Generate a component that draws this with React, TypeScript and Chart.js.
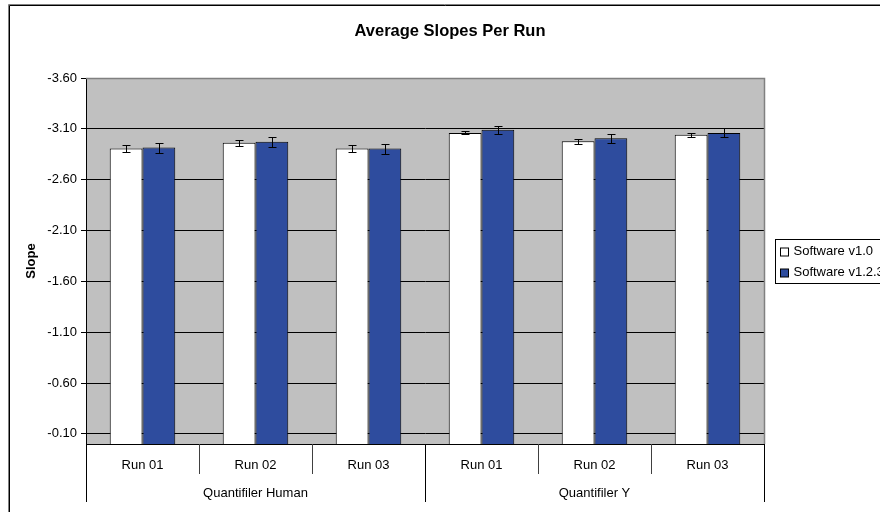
import React, { useEffect, useRef } from "react";
import { Chart, registerables } from "chart.js";

Chart.register(...registerables);

// ---- data ----
const runs = ["Run 01", "Run 02", "Run 03", "Run 01", "Run 02", "Run 03"];
const groups = ["Quantifiler Human", "Quantifiler Y"];
const groupOfRun = [0, 0, 0, 1, 1, 1];
const seriesNames = ["Software v1.0", "Software v1.2.3"];
const slopesV10 = [-2.906, -2.962, -2.906, -3.06, -2.978, -3.041];
const slopesV123 = [-2.916, -2.972, -2.906, -3.09, -3.008, -3.06];
const errV10 = [0.037, 0.033, 0.037, 0.015, 0.025, 0.02];
const errV123 = [0.049, 0.048, 0.049, 0.042, 0.046, 0.044];
const yTicks = [-3.6, -3.1, -2.6, -2.1, -1.6, -1.1, -0.6, -0.1];
const yMin = -3.6;
const yMax = 0;
const chartTitle = "Average Slopes Per Run";
const yTitle = "Slope";

const FONT = "'Liberation Sans', Arial, Helvetica, sans-serif";
const BLUE = "#2E4C9E";
const PLOT_BG = "#C0C0C0";

const excelPlugin = {
  id: "excelDecor",
  beforeDraw(chart: any) {
    const { ctx, chartArea: a } = chart;
    ctx.save();
    ctx.fillStyle = "#ffffff";
    ctx.fillRect(0, 0, chart.width, chart.height);
    ctx.fillStyle = PLOT_BG;
    ctx.fillRect(a.left, a.top, a.right - a.left, a.bottom - a.top);
    ctx.restore();
  },
  afterDatasetsDraw(chart: any) {
    const { ctx } = chart;
    const ys = chart.scales.y;
    ctx.save();
    ctx.strokeStyle = "#000";
    ctx.lineWidth = 1;
    chart.data.datasets.forEach((ds: any, di: number) => {
      const meta = chart.getDatasetMeta(di);
      meta.data.forEach((bar: any, i: number) => {
        const v = ds.data[i];
        const e = ds.errors[i];
        const x = Math.round(bar.x) + 0.5;
        const y1 = Math.round(ys.getPixelForValue(v - e)) + 0.5;
        const y2 = Math.round(ys.getPixelForValue(v + e)) + 0.5;
        ctx.beginPath();
        ctx.moveTo(x, y1);
        ctx.lineTo(x, y2);
        ctx.moveTo(x - 4, y1);
        ctx.lineTo(x + 4, y1);
        ctx.moveTo(x - 4, y2);
        ctx.lineTo(x + 4, y2);
        ctx.stroke();
      });
    });
    ctx.restore();
  },
  afterDraw(chart: any) {
    const { ctx, chartArea: a } = chart;
    const xs = chart.scales.x;
    ctx.save();

    // outer chart frame
    ctx.strokeStyle = "#808080";
    ctx.lineWidth = 1;
    ctx.beginPath();
    ctx.moveTo(8.5, chart.height + 5);
    ctx.lineTo(8.5, 4.5);
    ctx.lineTo(chart.width + 5, 4.5);
    ctx.stroke();
    ctx.strokeStyle = "#000";
    ctx.beginPath();
    ctx.moveTo(9.5, chart.height + 5);
    ctx.lineTo(9.5, 5.5);
    ctx.lineTo(chart.width + 5, 5.5);
    ctx.stroke();

    // plot border (top / right grey)
    ctx.strokeStyle = "#808080";
    ctx.lineWidth = 1.5;
    ctx.beginPath();
    ctx.moveTo(a.left, a.top + 0.5);
    ctx.lineTo(a.right + 0.5, a.top + 0.5);
    ctx.lineTo(a.right + 0.5, a.bottom);
    ctx.stroke();

    // x axis line
    ctx.strokeStyle = "#000";
    ctx.lineWidth = 1;
    ctx.beginPath();
    ctx.moveTo(a.left, a.bottom + 0.5);
    ctx.lineTo(a.right + 1, a.bottom + 0.5);
    ctx.stroke();

    // hierarchical x labels
    const n = runs.length;
    const half = (xs.getPixelForValue(1) - xs.getPixelForValue(0)) / 2;
    const bounds: number[] = [];
    for (let k = 0; k <= n; k++) {
      bounds.push(k < n ? xs.getPixelForValue(k) - half : xs.getPixelForValue(n - 1) + half);
    }
    for (let k = 0; k <= n; k++) {
      const isGroupEdge = k === 0 || k === n || groupOfRun[k] !== groupOfRun[k - 1];
      const x = Math.round(bounds[k]) + 0.5;
      ctx.strokeStyle = isGroupEdge ? "#000" : "#404040";
      ctx.beginPath();
      ctx.moveTo(x, a.bottom);
      ctx.lineTo(x, a.bottom + (isGroupEdge ? 58 : 30));
      ctx.stroke();
    }
    ctx.fillStyle = "#000";
    ctx.font = `13px ${FONT}`;
    ctx.textAlign = "center";
    ctx.textBaseline = "middle";
    runs.forEach((r, i) => {
      ctx.fillText(r, xs.getPixelForValue(i), a.bottom + 21);
    });
    groups.forEach((g, gi) => {
      const idx = groupOfRun.map((v, i) => (v === gi ? i : -1)).filter((i) => i >= 0);
      const x0 = bounds[idx[0]];
      const x1 = bounds[idx[idx.length - 1] + 1];
      ctx.fillText(g, (x0 + x1) / 2, a.bottom + 49);
    });

    // title
    ctx.font = `bold 16.5px ${FONT}`;
    ctx.fillText(chartTitle, 450, 31);

    // legend
    const cy = (a.top + a.bottom) / 2;
    const lx = a.right + 11.5;
    const ly = Math.round(cy - 22) + 0.5;
    ctx.strokeStyle = "#000";
    ctx.lineWidth = 1;
    ctx.strokeRect(lx, ly, 200, 44);
    ctx.font = `13px ${FONT}`;
    ctx.textAlign = "left";
    chart.data.datasets.forEach((ds: any, di: number) => {
      const mid = ly + 11.5 + di * 21;
      ctx.fillStyle = ds.backgroundColor;
      ctx.fillRect(lx + 5, Math.round(mid - 3.5), 8, 8);
      ctx.strokeRect(lx + 5, Math.round(mid - 3.5) + 0.5 - 0.5, 8, 8);
      ctx.fillStyle = "#000";
      ctx.fillText(ds.label, lx + 18, mid + 0.5);
    });

    ctx.restore();
  },
};

export default function App() {
  const ref = useRef<HTMLCanvasElement | null>(null);

  useEffect(() => {
    if (!ref.current) return;
    Chart.defaults.font.family = FONT;
    Chart.defaults.color = "#000";
    const chart = new Chart(ref.current, {
      type: "bar",
      data: {
        labels: runs,
        datasets: [
          {
            label: seriesNames[0],
            data: slopesV10,
            errors: errV10,
            backgroundColor: "#FFFFFF",
            borderColor: "#000000",
            borderWidth: 1,
            categoryPercentage: 0.58,
            barPercentage: 1,
          } as any,
          {
            label: seriesNames[1],
            data: slopesV123,
            errors: errV123,
            backgroundColor: BLUE,
            borderColor: "#000000",
            borderWidth: 1,
            categoryPercentage: 0.58,
            barPercentage: 1,
          } as any,
        ],
      },
      options: {
        responsive: false,
        animation: false,
        devicePixelRatio: 1,
        layout: { padding: { top: 78, right: 116, bottom: 0, left: 0 } },
        plugins: {
          legend: { display: false },
          title: { display: false },
          tooltip: { enabled: false },
        },
        scales: {
          x: {
            type: "category",
            grid: { display: false },
            border: { display: false },
            ticks: { display: false },
            afterFit: (s: any) => {
              s.height = 68;
            },
          },
          y: {
            type: "linear",
            reverse: true,
            min: yMin,
            max: yMax,
            afterBuildTicks: (s: any) => {
              s.ticks = yTicks.map((v) => ({ value: v }));
            },
            afterFit: (s: any) => {
              s.width = 86;
            },
            ticks: {
              font: { size: 13, family: FONT },
              color: "#000",
              padding: 4,
              callback: (v: any) => Number(v).toFixed(2),
            },
            grid: { color: "#000", lineWidth: 1, tickLength: 5, drawTicks: true },
            border: { display: true, color: "#000", width: 1 },
            title: {
              display: true,
              text: yTitle,
              color: "#000",
              font: { size: 13, weight: "bold", family: FONT },
              padding: { top: 24, bottom: 0 },
            },
          },
        },
      },
      plugins: [excelPlugin],
    } as any);
    return () => chart.destroy();
  }, []);

  return (
    <div
      style={{
        position: "fixed",
        left: 0,
        top: 0,
        width: 880,
        height: 512,
        overflow: "hidden",
        background: "#fff",
      }}
    >
      <canvas ref={ref} width={880} height={512} style={{ display: "block" }} />
    </div>
  );
}
